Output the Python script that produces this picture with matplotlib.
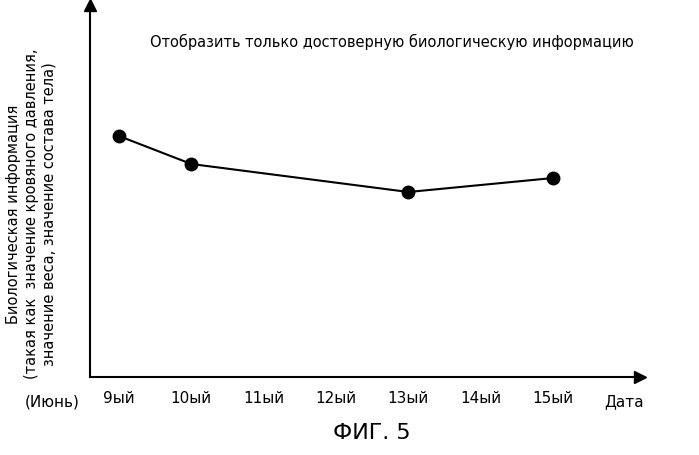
import matplotlib.pyplot as plt

days = [9, 10, 13, 15]
values = [241, 213, 185, 199]
tick_days = [9, 10, 11, 12, 13, 14, 15]
tick_labels = ["9ый", "10ый", "11ый", "12ый", "13ый", "14ый", "15ый"]

fig = plt.figure(figsize=(6.99, 4.55), dpi=100)
ax = fig.add_axes([90 / 699, 78 / 455, 550 / 699, 372 / 455])
ax.plot(days, values, color="black", lw=1.5, marker="o", ms=9)
ax.set_xlim(8.6, 16.2)
ax.set_ylim(0, 372)
for s in ["top", "right"]:
    ax.spines[s].set_visible(False)
ax.spines["left"].set_linewidth(1.5)
ax.spines["bottom"].set_linewidth(1.5)
ax.set_yticks([])
ax.set_xticks(tick_days)
ax.set_xticklabels(tick_labels, fontsize=11)
ax.tick_params(axis="x", length=0, pad=10)
# arrow heads
ax.plot(1, 0, ">k", ms=8, transform=ax.transAxes, clip_on=False)
ax.plot(0, 1, "^k", ms=8, transform=ax.transAxes, clip_on=False)

ax.text(15.7, -25, "Дата", fontsize=11, ha="left", va="center")
ax.text(8.45, -25, "(Июнь)", fontsize=11, ha="right", va="center")
ax.text(0.11, 0.9, "Отобразить только достоверную биологическую информацию",
        transform=ax.transAxes, fontsize=10.5, ha="left", va="center")
fig.text(0.045, 0.53,
         "Биологическая информация\n(такая как  значение кровяного давления,\nзначение веса, значение состава тела)",
         rotation=90, ha="center", va="center", fontsize=10.5, linespacing=1.25)
fig.text(372 / 699, 1 - 433 / 455, "ФИГ. 5", fontsize=16, ha="center", va="center")
fig.savefig("out.png", dpi=100)
